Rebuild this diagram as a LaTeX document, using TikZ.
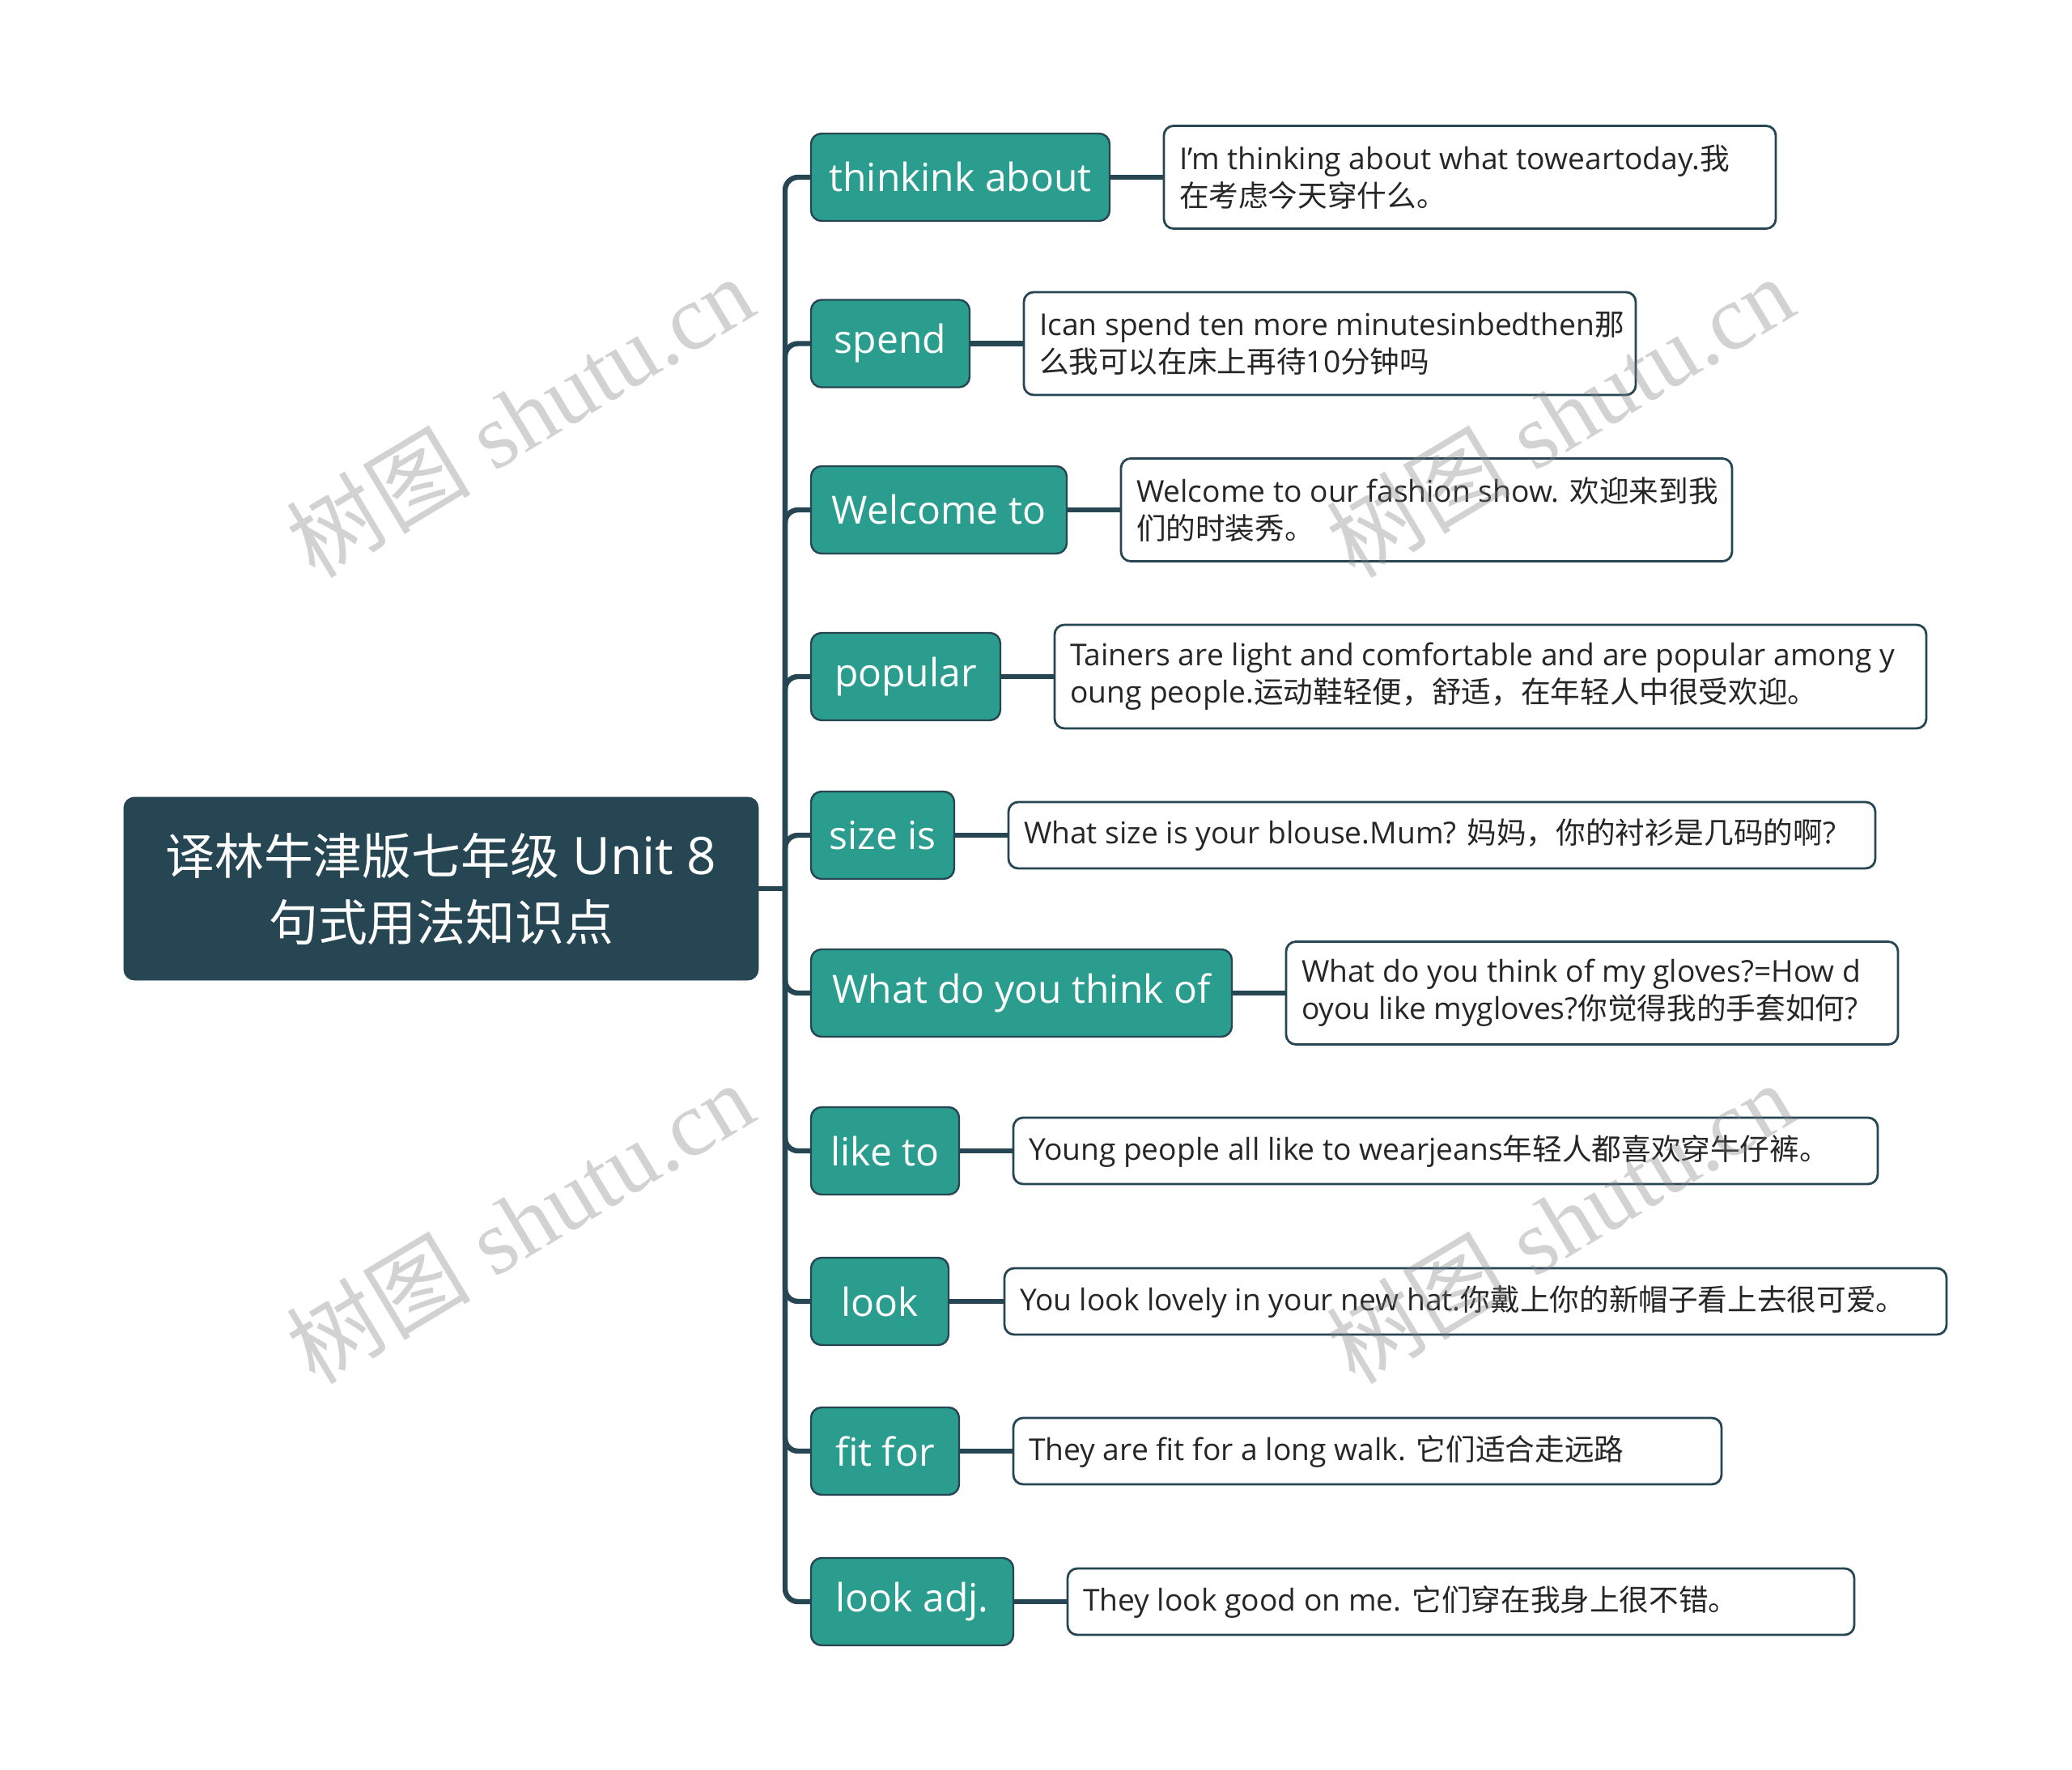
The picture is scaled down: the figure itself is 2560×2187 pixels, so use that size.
\documentclass[tikz,border=0pt]{standalone}
\usepackage{fontspec}
\setmainfont{Open Sans}
\newfontfamily\cjk[Scale=0.985]{Noto Sans CJK SC}
\newfontfamily\rootcjk[Scale=0.95]{Noto Sans CJK SC}
\newfontfamily\wmserif{Liberation Serif}
\newfontfamily\wmcjk{Noto Sans CJK SC}
\definecolor{darkslate}{HTML}{264653}
\definecolor{branchteal}{HTML}{2A9D8F}
\tikzset{
  rootbox/.style={fill=darkslate, draw=darkslate, rounded corners=6.5pt, minimum width=392pt, minimum height=113pt, text=white, font=\fontsize{32}{41}\selectfont, align=center, inner sep=0pt},
  branchbox/.style={fill=branchteal, draw=darkslate, line width=1.2pt, rounded corners=6.5pt, minimum height=54pt, text=white, font=\fontsize{24}{29}\selectfont, inner sep=0pt},
  leafbox/.style={fill=white, draw=darkslate, line width=1.4pt, rounded corners=6pt, inner sep=0pt},
  leaftext/.style={anchor=west, align=left, font=\fontsize{18.6}{23}\selectfont, text=black!85, inner sep=0pt},
  link/.style={draw=darkslate, line width=3.2pt},
  wm/.style={text=gray, opacity=0.35, rotate=31, font=\fontsize{57}{60}\selectfont, inner sep=0pt}
}
\begin{document}
\begin{tikzpicture}[x=0.5pt,y=-0.5pt]
\fill[white] (0,0) rectangle (2560,2187);
\useasboundingbox (0,0) rectangle (2560,2187);

% root
\node[rootbox] (root) at (545,1098) {{\rootcjk 译林牛津版七年级} Unit 8\\{\rootcjk 句式用法知识点}};
\coordinate (J) at (970,1098);

% branches
\node[branchbox, minimum width=184.5pt] (b1) at (1186.5,219) {thinkink about};
\node[branchbox, minimum width=98pt] (b2) at (1100,424.5) {spend};
\node[branchbox, minimum width=158pt] (b3) at (1160,630) {Welcome to};
\node[branchbox, minimum width=117pt] (b4) at (1119,836) {popular};
\node[branchbox, minimum width=88.5pt] (b5) at (1090.5,1032) {size is};
\node[branchbox, minimum width=260pt] (b6) at (1262,1227) {What do you think of};
\node[branchbox, minimum width=91.5pt] (b7) at (1093.5,1422) {like to};
\node[branchbox, minimum width=85pt] (b8) at (1087,1608) {look};
\node[branchbox, minimum width=91.5pt] (b9) at (1093.5,1793) {fit for};
\node[branchbox, minimum width=125pt] (b10) at (1127,1979) {look adj.};

% leaves
\node[leafbox, minimum width=378pt, minimum height=63.5pt] (l1) at (1816,219) {};
\node[leafbox, minimum width=378pt, minimum height=63.5pt] (l2) at (1643,424.5) {};
\node[leafbox, minimum width=377.5pt, minimum height=63.5pt] (l3) at (1762.5,630) {};
\node[leafbox, minimum width=538.5pt, minimum height=64pt] (l4) at (1841.5,836) {};
\node[leafbox, minimum width=535.5pt, minimum height=41pt] (l5) at (1781.5,1032) {};
\node[leafbox, minimum width=378pt, minimum height=63.5pt] (l6) at (1967,1227) {};
\node[leafbox, minimum width=534pt, minimum height=41pt] (l7) at (1786,1422) {};
\node[leafbox, minimum width=582pt, minimum height=41pt] (l8) at (1823,1608) {};
\node[leafbox, minimum width=437.5pt, minimum height=41pt] (l9) at (1689.5,1793) {};
\node[leafbox, minimum width=486pt, minimum height=41pt] (l10) at (1805,1979) {};

\node[leaftext] (t1) at ([xshift=10pt]l1.west) {I'm thinking about what toweartoday.{\cjk 我}\\{\cjk 在考虑今天穿什么。}};
\node[leaftext] (t2) at ([xshift=10pt]l2.west) {Ican spend ten more minutesinbedthen{\cjk 那}\\{\cjk 么我可以在床上再待}10{\cjk 分钟吗}};
\node[leaftext] (t3) at ([xshift=10pt]l3.west) {Welcome to our fashion show. {\cjk 欢迎来到我}\\{\cjk 们的时装秀。}};
\node[leaftext] (t4) at ([xshift=10pt]l4.west) {Tainers are light and comfortable and are popular among y\\oung people.{\cjk 运动鞋轻便，舒适，在年轻人中很受欢迎。}};
\node[leaftext] (t5) at ([xshift=10pt]l5.west) {What size is your blouse.Mum? {\cjk 妈妈，你的衬衫是几码的啊}?};
\node[leaftext] (t6) at ([xshift=10pt]l6.west) {What do you think of my gloves?=How d\\oyou like mygloves?{\cjk 你觉得我的手套如何}?};
\node[leaftext] (t7) at ([xshift=10pt]l7.west) {Young people all like to wearjeans{\cjk 年轻人都喜欢穿牛仔裤。}};
\node[leaftext] (t8) at ([xshift=10pt]l8.west) {You look lovely in your new hat.{\cjk 你戴上你的新帽子看上去很可爱。}};
\node[leaftext] (t9) at ([xshift=10pt]l9.west) {They are fit for a long walk. {\cjk 它们适合走远路}};
\node[leaftext] (t10) at ([xshift=10pt]l10.west) {They look good on me. {\cjk 它们穿在我身上很不错。}};

% connectors
\draw[link] (root.east) -- (J);
\foreach \b in {b1,b2,b3,b4,b5,b6,b7,b8,b9,b10}
  \draw[link, rounded corners=8pt] (J) -- (J |- \b.west) -- (\b.west);
\foreach \i in {1,...,10}
  \draw[link] (b\i.east) -- (l\i.west);

% watermarks
\node[wm] (w1) at (642,514) {{\wmcjk 树图} {\wmserif shutu.cn}};
\node[wm] (w2) at (1927,514) {{\wmcjk 树图} {\wmserif shutu.cn}};
\node[wm] (w3) at (642,1510) {{\wmcjk 树图} {\wmserif shutu.cn}};
\node[wm] (w4) at (1927,1510) {{\wmcjk 树图} {\wmserif shutu.cn}};
\end{tikzpicture}
\end{document}
